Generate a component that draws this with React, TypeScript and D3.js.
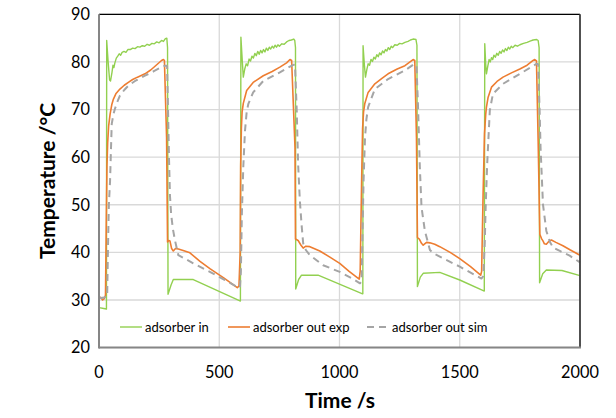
import React from "react";
import * as d3 from "d3";

// Time (s) / temperature (°C) pairs for each measured or simulated stream
const adsorberIn: [number, number][] = [
  [0, 28.4], [20, 28.2], [31, 28.1], [32, 84.5], [38, 80.0], [44, 76.2], [48, 76.0], [54, 77.8],
  [58, 79.3], [62, 78.8], [66, 79.8], [72, 80.8], [78, 81.2], [84, 81.7], [90, 81.4], [96, 82.0],
  [104, 82.2], [112, 82.0], [120, 82.6], [130, 82.6], [140, 82.9], [150, 82.8], [160, 83.2],
  [170, 83.1], [180, 83.4], [190, 83.3], [200, 83.7], [210, 83.5], [220, 83.9], [230, 83.8],
  [240, 84.2], [250, 84.0], [260, 84.5], [268, 84.3], [276, 84.9], [282, 85.0], [285, 83.0],
  [287, 31.2], [300, 33.2], [309, 34.3], [392, 34.3], [586, 29.8],
  [588, 29.8], [590, 85.2], [596, 80.0], [600, 76.8], [606, 78.5], [612, 79.6], [618, 79.2],
  [624, 80.6], [630, 80.2], [636, 81.2], [642, 80.8], [648, 81.8], [654, 81.3], [660, 82.2],
  [666, 81.6], [672, 82.4], [678, 81.9], [684, 82.6], [690, 82.1], [696, 82.9], [702, 82.4],
  [708, 83.1], [714, 82.7], [720, 83.3], [726, 82.9], [732, 83.5], [738, 83.1], [744, 83.6],
  [750, 83.3], [760, 83.8], [770, 83.7], [780, 84.2], [790, 84.5], [800, 84.6], [810, 84.8],
  [814, 84.5], [817, 83.0], [818, 32.3], [830, 34.3], [842, 35.2], [911, 35.2], [1096, 31.3],
  [1097, 31.3], [1098, 83.4], [1104, 79.0], [1108, 76.8], [1114, 78.5], [1119, 79.6], [1125, 79.3],
  [1131, 80.5], [1137, 80.1], [1143, 81.0], [1149, 80.6], [1155, 81.5], [1161, 81.1], [1167, 81.9],
  [1173, 81.5], [1179, 82.3], [1185, 81.9], [1191, 82.6], [1197, 82.3], [1203, 83.0], [1209, 82.6],
  [1215, 83.3], [1221, 83.0], [1230, 83.6], [1240, 83.5], [1250, 83.9], [1260, 83.8], [1272, 84.1],
  [1285, 84.3], [1295, 84.6], [1306, 84.8], [1318, 84.7], [1322, 83.5], [1324, 32.8], [1336, 34.8],
  [1348, 35.6], [1417, 35.8], [1500, 34.2], [1600, 31.9],
  [1602, 31.9], [1604, 83.8], [1608, 79.5], [1611, 77.5], [1617, 79.2], [1622, 80.5], [1627, 80.0],
  [1632, 80.9], [1637, 80.5], [1642, 81.4], [1648, 81.0], [1654, 81.8], [1660, 81.4], [1666, 82.2],
  [1672, 81.8], [1678, 82.5], [1684, 82.1], [1690, 82.8], [1696, 82.4], [1702, 83.1], [1708, 82.7],
  [1714, 83.3], [1720, 83.0], [1730, 83.5], [1740, 83.3], [1750, 83.6], [1765, 83.9], [1780, 84.1],
  [1795, 84.4], [1805, 84.6], [1820, 84.7], [1826, 84.5], [1830, 83.0], [1832, 33.6], [1845, 35.5],
  [1860, 36.3], [1925, 36.2], [2000, 35.1],
];

const adsorberOutExp: [number, number][] = [
  [0, 30.6], [8, 30.5], [15, 30.0], [22, 30.3], [27, 31.0], [30, 45.0], [33, 58.0], [36, 63.0],
  [40, 66.5], [46, 69.0], [53, 71.0], [60, 72.2], [70, 73.3], [87, 74.3], [105, 75.1], [122, 75.7],
  [140, 76.3], [160, 76.8], [191, 77.5], [215, 78.3], [240, 79.4], [260, 80.3], [268, 80.5],
  [272, 80.3], [281, 64.2], [285, 42.2], [290, 42.5], [295, 42.4], [302, 40.8], [309, 40.3],
  [318, 40.8], [330, 40.7], [350, 40.4], [378, 39.9], [420, 38.1], [461, 36.6], [520, 34.6],
  [575, 32.6], [582, 32.9], [587, 40.0], [589, 58.0], [592, 66.0], [595, 69.5], [600, 71.3],
  [614, 74.0], [641, 75.7], [683, 77.1], [720, 78.0], [752, 78.9], [780, 79.8], [794, 80.5],
  [801, 80.3], [815, 62.0], [817, 42.8], [828, 42.5], [840, 41.5], [849, 40.9], [860, 41.3],
  [877, 41.2], [918, 40.3], [960, 39.0], [1001, 37.7], [1040, 36.0], [1082, 34.4], [1086, 36.0],
  [1092, 55.0], [1096, 66.0], [1100, 69.5], [1105, 71.2], [1119, 73.6], [1147, 75.4], [1175, 76.5],
  [1202, 77.5], [1240, 78.5], [1272, 79.2], [1306, 80.5], [1313, 80.3], [1320, 64.2], [1324, 43.1],
  [1332, 42.8], [1341, 41.9], [1348, 41.5], [1362, 42.1], [1376, 42.0], [1396, 41.7], [1417, 41.2],
  [1460, 40.0], [1500, 38.7], [1545, 37.0], [1587, 35.2], [1591, 36.0], [1597, 52.0], [1603, 65.0],
  [1608, 69.0], [1611, 70.5], [1618, 72.6], [1632, 74.7], [1655, 75.9], [1680, 76.8], [1715, 77.7],
  [1750, 78.5], [1780, 79.3], [1805, 80.3], [1812, 80.5], [1819, 80.2], [1826, 63.4], [1833, 43.8],
  [1840, 42.9], [1846, 42.4], [1852, 41.8], [1860, 41.7], [1870, 42.3], [1881, 42.6], [1900, 42.1],
  [1929, 41.4], [1960, 40.5], [2000, 39.4],
];

const adsorberOutSim: [number, number][] = [
  [0, 30.5], [10, 30.4], [20, 30.5], [34, 30.7], [37, 40.0], [41, 50.0], [46, 55.0], [50, 62.0],
  [53, 67.0], [60, 69.0], [66, 70.1], [76, 71.6], [87, 72.9], [105, 74.1], [122, 75.0], [150, 76.0],
  [191, 77.1], [230, 78.1], [260, 78.9], [274, 79.2], [283, 79.2], [287, 70.0], [291, 60.0],
  [295, 52.0], [300, 48.0], [307, 45.0], [316, 42.5], [330, 39.4], [360, 38.6], [392, 37.7],
  [461, 35.9], [520, 34.3], [572, 32.8], [586, 32.6], [590, 36.0], [594, 48.0], [600, 58.0],
  [607, 65.5], [614, 69.5], [621, 71.2], [641, 73.6], [683, 76.0], [752, 77.8], [790, 78.9],
  [808, 79.4], [815, 79.4], [822, 70.0], [828, 58.5], [835, 51.0], [842, 46.0], [849, 41.9],
  [860, 40.5], [877, 39.4], [932, 37.3], [1001, 35.9], [1050, 34.6], [1085, 33.5], [1092, 34.0],
  [1096, 45.0], [1100, 55.0], [1106, 64.0], [1112, 68.0], [1119, 70.5], [1147, 74.3], [1202, 76.4],
  [1272, 78.2], [1306, 79.4], [1320, 79.4], [1327, 70.0], [1334, 58.0], [1341, 49.5], [1355, 44.5],
  [1376, 40.5], [1390, 39.8], [1417, 39.1], [1500, 37.0], [1590, 34.5], [1598, 35.0], [1604, 42.0],
  [1608, 50.0], [1614, 58.5], [1625, 69.8], [1638, 73.3], [1680, 75.4], [1750, 77.5], [1800, 79.0],
  [1819, 79.6], [1826, 79.5], [1832, 70.0], [1836, 62.0], [1846, 50.1], [1860, 44.5], [1875, 42.2],
  [1888, 41.0], [1920, 40.2], [1957, 39.3], [2000, 37.9],
];

const xTicks = [0, 500, 1000, 1500, 2000];
const yTicks = [20, 30, 40, 50, 60, 70, 80, 90];

const seriesNames = ["adsorber in", "adsorber out exp", "adsorber out sim"];

const W = 616;
const H = 418;
const plot = { left: 99, right: 580, top: 14.3, bottom: 347.6 };
const font = "Lato, 'Liberation Sans', sans-serif";

export default function App() {
  const x = d3.scaleLinear().domain([0, 2000]).range([plot.left, plot.right]);
  const y = d3.scaleLinear().domain([20, 90]).range([plot.bottom, plot.top]);
  const line = d3
    .line<[number, number]>()
    .x((d) => x(d[0]))
    .y((d) => y(d[1]));

  const styles = [
    { stroke: "#92d050", width: 1.4, dash: undefined as string | undefined },
    { stroke: "#ed7d31", width: 1.6, dash: undefined as string | undefined },
    { stroke: "#a5a5a5", width: 2, dash: "7,5" },
  ];
  const data = [adsorberIn, adsorberOutExp, adsorberOutSim];

  const legendY = 327;
  const legendItems = [
    { x0: 120, x1: 142, tx: 145 },
    { x0: 228, x1: 250, tx: 253 },
    { x0: 367, x1: 389, tx: 392 },
  ];

  return (
    <svg
      width={W}
      height={H}
      style={{ position: "absolute", left: 0, top: 0, background: "#fff" }}
      fontFamily={font}
    >
      <rect width={W} height={H} fill="#fff" />
      {/* gridlines */}
      {yTicks.map((t) => (
        <line key={"gy" + t} x1={plot.left} x2={plot.right} y1={y(t)} y2={y(t)} stroke="#d9d9d9" strokeWidth={1.3} />
      ))}
      {xTicks.map((t) => (
        <line key={"gx" + t} x1={x(t)} x2={x(t)} y1={plot.top} y2={plot.bottom} stroke="#d9d9d9" strokeWidth={1.3} />
      ))}

      {/* series */}
      {data.map((d, i) => (
        <path
          key={i}
          d={line(d) || ""}
          fill="none"
          stroke={styles[i].stroke}
          strokeWidth={styles[i].width}
          strokeDasharray={styles[i].dash}
          strokeLinejoin="round"
        />
      ))}

      {/* plot frame and axes */}
      <line x1={plot.left} x2={plot.right} y1={plot.top} y2={plot.top} stroke="#000" strokeWidth={1.2} />
      <line x1={plot.right} x2={plot.right} y1={plot.top} y2={plot.bottom} stroke="#404040" strokeWidth={1.8} />
      <line x1={plot.left} x2={plot.left} y1={plot.top} y2={plot.bottom + 1} stroke="#868686" strokeWidth={2} />
      <line x1={plot.left} x2={plot.right + 1} y1={plot.bottom} y2={plot.bottom} stroke="#868686" strokeWidth={2} />

      {/* tick labels */}
      {yTicks.map((t) => (
        <text key={"ly" + t} x={90} y={y(t)} dy="0.36em" textAnchor="end" fontSize={16.3} fill="#000">
          {t}
        </text>
      ))}
      {xTicks.map((t) => (
        <text key={"lx" + t} x={x(t)} y={378} textAnchor="middle" fontSize={16.3} fill="#000">
          {t}
        </text>
      ))}

      {/* axis titles */}
      <text x={340} y={408} textAnchor="middle" fontSize={21} fontWeight="bold" fill="#000">
        Time /s
      </text>
      <text
        transform="translate(55,181) rotate(-90)"
        textAnchor="middle"
        fontSize={21}
        fontWeight="bold"
        fill="#000"
      >
        Temperature /°C
      </text>

      {/* legend */}
      {legendItems.map((it, i) => (
        <g key={"lg" + i}>
          <line
            x1={it.x0}
            x2={it.x1}
            y1={legendY}
            y2={legendY}
            stroke={styles[i].stroke}
            strokeWidth={styles[i].width}
            strokeDasharray={styles[i].dash}
          />
          <text x={it.tx} y={legendY + 4.5} fontSize={13} fill="#000">
            {seriesNames[i]}
          </text>
        </g>
      ))}
    </svg>
  );
}
